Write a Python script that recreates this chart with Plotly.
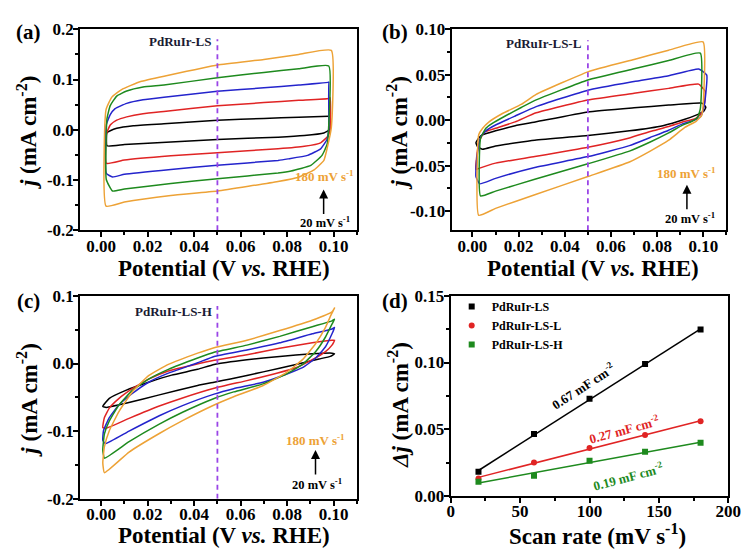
import numpy as np
import plotly.graph_objects as go

W, H = 756, 558
FONT = "Liberation Serif"

# ---------------- colours per scan rate ----------------
scan_labels = ["20", "60", "100", "140", "180"]
scan_colors = ["#000000", "#e02424", "#2424cc", "#1e8a1e", "#eda236"]

# ---------------- panel (a) PdRuIr-LS ----------------
a20_x = [0.0025, 0.0025, 0.0039, 0.0067, 0.0138, 0.027, 0.050, 0.070, 0.085, 0.098, 0.0985, 0.0985, 0.0983, 0.0958, 0.0874, 0.0761, 0.050, 0.030, 0.010, 0.0025]
a20_y = [-0.032, -0.006, -0.002, 0.003, 0.008, 0.012, 0.019, 0.0225, 0.025, 0.027, 0.027, 0.008, 0.000, -0.0064, -0.0115, -0.0148, -0.0193, -0.0244, -0.0296, -0.032]
a60_x = [0.0022, 0.0022, 0.0039, 0.0067, 0.011, 0.018, 0.027, 0.050, 0.070, 0.085, 0.098, 0.0985, 0.0985, 0.0975, 0.0944, 0.0874, 0.0761, 0.050, 0.030, 0.010, 0.0022]
a60_y = [-0.0668, -0.0096, 0.0096, 0.019, 0.0256, 0.032, 0.0365, 0.0476, 0.054, 0.0585, 0.0623, 0.064, 0.000, -0.013, -0.026, -0.033, -0.038, -0.0456, -0.052, -0.0604, -0.0668]
a100_x = [0.0022, 0.0022, 0.0039, 0.006, 0.011, 0.018, 0.027, 0.050, 0.070, 0.085, 0.098, 0.0979, 0.0979, 0.0972, 0.0944, 0.0888, 0.0804, 0.0761, 0.050, 0.030, 0.010, 0.0049, 0.0022]
a100_y = [-0.087, 0.010, 0.030, 0.042, 0.0525, 0.0596, 0.0648, 0.0765, 0.0835, 0.089, 0.0945, 0.095, 0.003, -0.019, -0.038, -0.051, -0.058, -0.061, -0.0707, -0.079, -0.0887, -0.094, -0.087]
a140_x = [0.0022, 0.0025, 0.0039, 0.0067, 0.011, 0.018, 0.027, 0.050, 0.070, 0.085, 0.0979, 0.0979, 0.0972, 0.095, 0.0902, 0.0817, 0.0761, 0.050, 0.030, 0.010, 0.0049, 0.0022]
a140_y = [-0.099, 0.022, 0.048, 0.067, 0.077, 0.085, 0.089, 0.1035, 0.114, 0.1215, 0.127, 0.010, -0.029, -0.051, -0.071, -0.082, -0.086, -0.0977, -0.107, -0.118, -0.122, -0.099]
a180_x = [0.0021, 0.0021, 0.0046, 0.0088, 0.017, 0.0285, 0.050, 0.070, 0.085, 0.099, 0.099, 0.0973, 0.0958, 0.0916, 0.0846, 0.0761, 0.050, 0.030, 0.010, 0.0021]
a180_y = [-0.152, 0.040, 0.065, 0.080, 0.096, 0.108, 0.129, 0.140, 0.150, 0.158, 0.004, -0.035, -0.061, -0.080, -0.095, -0.103, -0.122, -0.131, -0.144, -0.152]

# ---------------- panel (b) PdRuIr-LS-L ----------------
b20_x = [0.0015, 0.0027, 0.0044, 0.010, 0.0185, 0.0276, 0.050, 0.070, 0.085, 0.0994, 0.1011, 0.1001, 0.0966, 0.092, 0.0825, 0.068, 0.050, 0.027, 0.010, 0.0044, 0.0023, 0.0015]
b20_y = [-0.0248, -0.0195, -0.016, -0.0117, -0.006, -0.0018, 0.009, 0.0136, 0.0166, 0.0188, 0.0142, 0.0096, 0.0053, 0.001, -0.006, -0.0117, -0.0167, -0.022, -0.0284, -0.032, -0.0294, -0.0248]
b60_x = [0.0015, 0.0018, 0.003, 0.0051, 0.010, 0.0185, 0.0276, 0.050, 0.070, 0.085, 0.098, 0.1008, 0.1006, 0.0994, 0.0966, 0.091, 0.085, 0.077, 0.068, 0.050, 0.027, 0.010, 0.0028, 0.0015]
b60_y = [-0.0543, -0.0408, -0.023, -0.0131, -0.0089, -0.0018, 0.0082, 0.0223, 0.0296, 0.035, 0.0397, 0.0319, 0.0195, 0.0082, 0.0018, -0.002, -0.007, -0.0125, -0.0195, -0.0298, -0.040, -0.0472, -0.053, -0.0543]
b100_x = [0.0015, 0.0023, 0.0037, 0.0058, 0.010, 0.0185, 0.0276, 0.050, 0.070, 0.085, 0.098, 0.1015, 0.1011, 0.1001, 0.0987, 0.095, 0.091, 0.085, 0.077, 0.068, 0.050, 0.027, 0.010, 0.0031, 0.0015, 0.0015]
b100_y = [-0.055, -0.0337, -0.0177, -0.0117, -0.0053, 0.0046, 0.0149, 0.033, 0.0425, 0.049, 0.0564, 0.0496, 0.030, 0.0124, 0.0035, -0.001, -0.004, -0.011, -0.019, -0.028, -0.040, -0.052, -0.064, -0.070, -0.062, -0.055]
b140_x = [0.0035, 0.0035, 0.0058, 0.0086, 0.0142, 0.0213, 0.0276, 0.050, 0.070, 0.085, 0.0987, 0.0987, 0.0975, 0.0945, 0.091, 0.085, 0.077, 0.068, 0.050, 0.027, 0.010, 0.0035]
b140_y = [-0.0833, -0.020, -0.0089, -0.0035, 0.0046, 0.0142, 0.0223, 0.0443, 0.0565, 0.0656, 0.0738, 0.0124, 0.003, -0.002, -0.0055, -0.014, -0.024, -0.034, -0.048, -0.065, -0.078, -0.0833]
b180_x = [0.0027, 0.0027, 0.0044, 0.0072, 0.0128, 0.0213, 0.0276, 0.050, 0.070, 0.085, 0.0999, 0.0999, 0.0993, 0.097, 0.092, 0.085, 0.077, 0.068, 0.050, 0.027, 0.010, 0.0027]
b180_y = [-0.1046, -0.016, -0.0089, -0.0018, 0.0071, 0.0177, 0.0284, 0.0532, 0.0668, 0.077, 0.0862, 0.016, 0.0053, -0.001, -0.008, -0.022, -0.034, -0.046, -0.062, -0.082, -0.097, -0.1046]

# ---------------- panel (c) PdRuIr-LS-H ----------------
c20_x = [0.0007, 0.0035, 0.0106, 0.0204, 0.0303, 0.0415, 0.0486, 0.0627, 0.0768, 0.0908, 0.0993, 0.1004, 0.0986, 0.0937, 0.0838, 0.0697, 0.0556, 0.0486, 0.0415, 0.0246, 0.0106, 0.0021, 0.0007]
c20_y = [-0.0635, -0.0516, -0.0397, -0.0277, -0.0172, -0.0086, -0.0014, 0.0057, 0.0105, 0.0143, 0.0153, 0.0143, 0.0105, 0.0067, -0.0014, -0.0124, -0.0229, -0.0277, -0.0325, -0.0468, -0.0588, -0.065, -0.0635]
c60_x = [0.0007, 0.0014, 0.0035, 0.0077, 0.0134, 0.0204, 0.0289, 0.0486, 0.0627, 0.0768, 0.0908, 0.0993, 0.1004, 0.0993, 0.0965, 0.0908, 0.0838, 0.0739, 0.0627, 0.0486, 0.035, 0.025, 0.012, 0.0021, 0.0007]
c60_y = [-0.0946, -0.080, -0.066, -0.0516, -0.0373, -0.023, -0.011, 0.0048, 0.0129, 0.0225, 0.0306, 0.0344, 0.0344, 0.0272, 0.0177, 0.0057, -0.0062, -0.0158, -0.0253, -0.0366, -0.0509, -0.0629, -0.0811, -0.0956, -0.0946]
c100_x = [0.0007, 0.001, 0.0035, 0.0077, 0.0134, 0.0204, 0.0289, 0.0415, 0.0486, 0.0627, 0.0768, 0.0908, 0.0993, 0.1004, 0.0993, 0.0965, 0.0923, 0.0866, 0.0796, 0.0697, 0.057, 0.0486, 0.035, 0.025, 0.012, 0.0018, 0.0007]
c100_y = [-0.1137, -0.0994, -0.080, -0.061, -0.0444, -0.0277, -0.0143, 0.001, 0.0105, 0.0201, 0.0306, 0.044, 0.0511, 0.0535, 0.044, 0.0248, 0.0081, -0.0062, -0.0158, -0.0277, -0.0373, -0.0453, -0.0623, -0.0773, -0.100, -0.1185, -0.1137]
c140_x = [0.0007, 0.0014, 0.0035, 0.0077, 0.0134, 0.0204, 0.0289, 0.0415, 0.0486, 0.0627, 0.0768, 0.0908, 0.0993, 0.1004, 0.0993, 0.0965, 0.0923, 0.0866, 0.0796, 0.0697, 0.057, 0.0486, 0.035, 0.025, 0.012, 0.0014, 0.0007]
c140_y = [-0.128, -0.104, -0.085, -0.061, -0.0397, -0.023, -0.0086, 0.0081, 0.0167, 0.0272, 0.0401, 0.0545, 0.0631, 0.0655, 0.0583, 0.0392, 0.0177, -0.0014, -0.0158, -0.0301, -0.042, -0.0517, -0.0721, -0.0896, -0.1156, -0.140, -0.128]
c180_x = [0.0007, 0.0014, 0.0035, 0.0077, 0.0134, 0.0204, 0.0289, 0.0415, 0.0486, 0.0627, 0.0768, 0.0908, 0.0993, 0.1004, 0.099, 0.0965, 0.0923, 0.0866, 0.0796, 0.0697, 0.057, 0.0486, 0.035, 0.025, 0.012, 0.0014, 0.0007]
c180_y = [-0.147, -0.123, -0.0994, -0.0707, -0.042, -0.018, -0.0014, 0.0153, 0.0234, 0.0344, 0.0487, 0.064, 0.0764, 0.0822, 0.0726, 0.0535, 0.0296, 0.0057, -0.0134, -0.0325, -0.0492, -0.0614, -0.0845, -0.1035, -0.131, -0.1615, -0.147]

# ---------------- panel (d) ----------------
scan_rate = [20, 60, 100, 140, 180]
dj_ls = [0.0181, 0.0463, 0.0728, 0.0989, 0.1247]
dj_lsl = [0.0130, 0.0251, 0.0359, 0.0456, 0.0559]
dj_lsh = [0.0106, 0.0150, 0.0263, 0.0330, 0.0398]
d_names = ["PdRuIr-LS", "PdRuIr-LS-L", "PdRuIr-LS-H"]
d_colors = ["#000000", "#e02424", "#1e8a1e"]
d_symbols = ["square", "circle", "square"]
cdl_labels = ["0.67 mF cm<sup>-2</sup>", "0.27 mF cm<sup>-2</sup>", "0.19 mF cm<sup>-2</sup>"]

# ---------------- ticks ----------------
pot_ticks = [0.00, 0.02, 0.04, 0.06, 0.08, 0.10]
pot_ticktext = ["0.00", "0.02", "0.04", "0.06", "0.08", "0.10"]
a_yticks = [-0.2, -0.1, 0.0, 0.1, 0.2]
a_yticktext = ["-0.2", "-0.1", "0.0", "0.1", "0.2"]
b_yticks = [-0.10, -0.05, 0.00, 0.05, 0.10]
b_yticktext = ["-0.10", "-0.05", "0.00", "0.05", "0.10"]
c_yticks = [-0.2, -0.1, 0.0, 0.1]
c_yticktext = ["-0.2", "-0.1", "0.0", "0.1"]
d_xticks = [0, 50, 100, 150, 200]
d_xticktext = ["0", "50", "100", "150", "200"]
d_yticks = [0.00, 0.05, 0.10, 0.15]
d_yticktext = ["0.00", "0.05", "0.10", "0.15"]

marker_potential = 0.05

fig = go.Figure()

panels = [
    ("x", "y", [(a20_x, a20_y), (a60_x, a60_y), (a100_x, a100_y), (a140_x, a140_y), (a180_x, a180_y)], [-0.2, 0.18]),
    ("x2", "y2", [(b20_x, b20_y), (b60_x, b60_y), (b100_x, b100_y), (b140_x, b140_y), (b180_x, b180_y)], [-0.121, 0.088]),
    ("x3", "y3", [(c20_x, c20_y), (c60_x, c60_y), (c100_x, c100_y), (c140_x, c140_y), (c180_x, c180_y)], [-0.2, 0.085]),
]
for xa, ya, curves, dash_span in panels:
    for (cx, cy), col, lab in zip(curves, scan_colors, scan_labels):
        fig.add_trace(go.Scatter(x=cx, y=cy, mode="lines", line=dict(color=col, width=1.5, shape="spline", smoothing=0.4),
                                 xaxis=xa, yaxis=ya, showlegend=False, name=lab + " mV/s"))
    fig.add_trace(go.Scatter(x=[marker_potential, marker_potential], y=dash_span, mode="lines",
                             line=dict(color="#9a45e6", width=1.8, dash="5px,4px"),
                             xaxis=xa, yaxis=ya, showlegend=False))

for vals, name, col, sym in zip([dj_ls, dj_lsl, dj_lsh], d_names, d_colors, d_symbols):
    k, b = np.polyfit(scan_rate, vals, 1)
    fit = [k * s + b for s in scan_rate]
    fig.add_trace(go.Scatter(x=scan_rate, y=fit, mode="lines", line=dict(color=col, width=1.5),
                             xaxis="x4", yaxis="y4", showlegend=False))
    fig.add_trace(go.Scatter(x=scan_rate, y=vals, mode="markers", name=name,
                             marker=dict(color=col, symbol=sym, size=6),
                             xaxis="x4", yaxis="y4", showlegend=True))


def axis(domain, rng, tickvals, ticktext, minor_dtick, minor_tick0, anchor, standoff):
    return dict(domain=domain, range=rng, anchor=anchor, tickmode="array", tickvals=tickvals,
                ticktext=ticktext, showline=True, linecolor="black", linewidth=2, mirror=True,
                ticks="outside", ticklen=5, tickwidth=1.5, tickcolor="black", ticklabelstandoff=standoff,
                minor=dict(tickmode="linear", tick0=minor_tick0, dtick=minor_dtick, ticks="outside",
                           ticklen=3, tickwidth=1.5, tickcolor="black"),
                showgrid=False, zeroline=False,
                tickfont=dict(family=FONT, size=17, color="black", weight="bold"))


def dx(px0, px1):
    return [px0 / W, px1 / W]


def dy(py_bottom, py_top):
    return [1 - py_bottom / H, 1 - py_top / H]


xr = [-0.009, 0.110]
layout = dict(
    width=W, height=H, margin=dict(l=0, r=0, t=0, b=0),
    paper_bgcolor="white", plot_bgcolor="white",
    xaxis=axis(dx(78, 361), xr, pot_ticks, pot_ticktext, 0.01, 0, "y", -6),
    yaxis=axis(dy(229, 21), [-0.2, 0.2], a_yticks, a_yticktext, 0.05, 0, "x", -4),
    xaxis2=axis(dx(458, 739), xr, pot_ticks, pot_ticktext, 0.01, 0, "y2", -6),
    yaxis2=axis(dy(229, 21), [-0.121, 0.10], b_yticks, b_yticktext, 0.025, 0, "x2", -4),
    xaxis3=axis(dx(78, 361), xr, pot_ticks, pot_ticktext, 0.01, 0, "y3", -6),
    yaxis3=axis(dy(507, 297), [-0.2, 0.1], c_yticks, c_yticktext, 0.05, 0, "x3", -4),
    xaxis4=axis(dx(457, 741), [0, 200], d_xticks, d_xticktext, 25, 0, "y4", -6),
    yaxis4=axis(dy(504, 297), [0, 0.15], d_yticks, d_yticktext, 0.025, 0, "x4", -4),
    showlegend=True,
    legend=dict(x=458 / W, y=1 - 293 / H, xanchor="left", yanchor="top", bgcolor="rgba(0,0,0,0)",
                font=dict(family=FONT, size=12, color="black", weight="bold"), itemwidth=30,
                tracegroupgap=0),
)
fig.update_layout(**layout)

ann = []


def paper_text(px, py, text, size, angle=0, color="black"):
    ann.append(dict(x=px / W, y=1 - py / H, xref="paper", yref="paper", text=text, showarrow=False,
                    textangle=angle, xanchor="center", yanchor="middle",
                    font=dict(family=FONT, size=size, color=color, weight="bold")))


# panel letters
paper_text(25, 24, "(a)", 21)
paper_text(400, 24, "(b)", 21)
paper_text(25, 302, "(c)", 21)
paper_text(400, 302, "(d)", 21)
# axis titles
pot_title = "Potential (V <i>vs.</i> RHE)"
j_title = "<i>j</i> (mA cm<sup>-2</sup>)"
paper_text(225, 269, pot_title, 23)
paper_text(603, 269, pot_title, 23)
paper_text(225, 545, pot_title, 23)
paper_text(607, 544, "Scan rate (mV s<sup>-1</sup>)", 23)
paper_text(24, 128, j_title, 23, -90)
paper_text(403, 128, j_title, 23, -90)
paper_text(24, 405, j_title, 23, -90)
paper_text(403, 410, "<i>Δj</i> (mA cm<sup>-2</sup>)", 23, -90)


def data_text(xa, ya, x, y, text, size, color="black", xanchor="center", angle=0):
    ann.append(dict(x=x, y=y, xref=xa, yref=ya, text=text, showarrow=False, xanchor=xanchor,
                    yanchor="middle", textangle=angle,
                    font=dict(family=FONT, size=size, color=color, weight="bold")))


def arrow(xa, ya, x, y):
    ann.append(dict(x=x, y=y, xref=xa, yref=ya, ax=0, ay=26, axref="pixel", ayref="pixel",
                    text="", showarrow=True, arrowhead=2, arrowsize=1.2, arrowwidth=1.5,
                    arrowcolor="black"))


label_color = "#1a1a33"
data_text("x", "y", 0.048, 0.175, "PdRuIr-LS", 13, label_color, "right")
data_text("x", "y", 0.0962, -0.093, "180 mV s<sup>-1</sup>", 13, scan_colors[4])
data_text("x", "y", 0.0962, -0.183, "20 mV s<sup>-1</sup>", 12.5)
arrow("x", "y", 0.0957, -0.119)

data_text("x2", "y2", 0.0485, 0.084, "PdRuIr-LS-L", 13, label_color, "right")
data_text("x2", "y2", 0.0929, -0.0585, "180 mV s<sup>-1</sup>", 13, scan_colors[4])
data_text("x2", "y2", 0.0942, -0.108, "20 mV s<sup>-1</sup>", 12.5)
arrow("x2", "y2", 0.0929, -0.071)

data_text("x3", "y3", 0.0485, 0.0774, "PdRuIr-LS-H", 13, label_color, "right")
data_text("x3", "y3", 0.0922, -0.1138, "180 mV s<sup>-1</sup>", 13, scan_colors[4])
data_text("x3", "y3", 0.0929, -0.178, "20 mV s<sup>-1</sup>", 12.5)
arrow("x3", "y3", 0.0922, -0.128)

data_text("x4", "y4", 95, 0.0826, cdl_labels[0], 13, d_colors[0], angle=-33)
data_text("x4", "y4", 125, 0.0505, cdl_labels[1], 13, d_colors[1], angle=-15)
data_text("x4", "y4", 128, 0.0152, cdl_labels[2], 13, d_colors[2], angle=-15)

fig.update_layout(annotations=ann)
fig.write_html("out.html")
